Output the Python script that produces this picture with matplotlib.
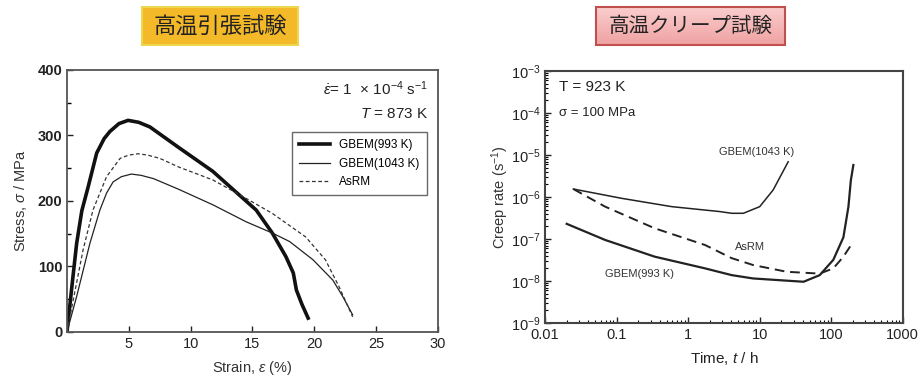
import numpy as np
import matplotlib
matplotlib.use('Agg')
import matplotlib.pyplot as plt
from matplotlib.patches import Rectangle
from matplotlib.ticker import LogLocator, NullFormatter, FixedLocator

plt.rcParams['font.family'] = ['Liberation Sans', 'DejaVu Sans']
plt.rcParams['mathtext.fontset'] = 'custom'
plt.rcParams['mathtext.rm'] = 'Liberation Sans'
plt.rcParams['mathtext.it'] = 'Liberation Sans:italic'
plt.rcParams['xtick.direction'] = 'in'
plt.rcParams['ytick.direction'] = 'in'

# tensile test (strain %, stress MPa)
gb993_strain = [0, 0.4, 0.78, 1.2, 1.72, 2.4, 3.0, 3.47, 4.2, 4.94, 5.8, 6.7, 9.0, 11.8, 13.4, 15.3, 16.6, 17.7, 18.3, 18.55, 19.0, 19.5]
gb993_stress = [0, 70, 135, 185, 222, 273, 295, 306, 318, 323, 320, 313, 282, 245, 218, 186, 151, 115, 90, 64, 42, 21]
gb1043_strain = [0, 0.78, 1.85, 2.66, 3.2, 3.73, 4.4, 5.2, 6.0, 7.0, 9.0, 11.8, 14.5, 16.6, 18.0, 19.9, 21.5, 22.3, 23.1]
gb1043_stress = [0, 54, 135, 186, 212, 229, 237, 241, 239, 234, 218, 194, 168, 151, 138, 110, 79, 54, 26]
asrm_strain = [0, 0.6, 1.3, 2.1, 3.2, 4.3, 5.0, 5.75, 6.5, 7.5, 9.0, 11.8, 14.0, 16.6, 19.3, 20.9, 22.0, 23.1]
asrm_stress = [0, 58, 125, 186, 237, 265, 270, 272, 270, 265, 252, 232, 209, 181, 145, 110, 69, 23]

# creep test (time h, creep rate 1/s)
c1043_t = [0.0248, 0.118, 0.59, 2.78, 4.06, 5.9, 10, 15.4, 25]
c1043_r = [1.55e-6, 9.3e-7, 5.9e-7, 4.5e-7, 4.1e-7, 4.1e-7, 5.9e-7, 1.47e-6, 6.9e-6]
casrm_t = [0.0248, 0.069, 0.34, 1.72, 4.06, 8.1, 23.8, 69, 107, 148, 204]
casrm_r = [1.55e-6, 5.9e-7, 1.8e-7, 7.2e-8, 3.5e-8, 2.4e-8, 1.66e-8, 1.5e-8, 2.0e-8, 3.8e-8, 8.7e-8]
c993_t = [0.020, 0.069, 0.34, 1.72, 4.06, 8.1, 41, 69, 107, 148, 174, 188, 204]
c993_r = [2.3e-7, 9.5e-8, 3.8e-8, 2.0e-8, 1.38e-8, 1.15e-8, 9.6e-9, 1.38e-8, 3.2e-8, 1.1e-7, 5.9e-7, 2.5e-6, 5.8e-6]

W, H = 924, 378
fig = plt.figure(figsize=(W / 100, H / 100), dpi=100)

# ---- left: tensile
ax1 = fig.add_axes([0.0725, 0.122, 0.4015, 0.693])
ax1.plot(gb993_strain, gb993_stress, color='#111111', lw=2.6, label='GBEM(993 K)')
ax1.plot(gb1043_strain, gb1043_stress, color='#222222', lw=0.9, label='GBEM(1043 K)')
ax1.plot(asrm_strain, asrm_stress, color='#333333', lw=0.9, ls=(0, (3, 2)), label='AsRM')
ax1.set_xlim(0, 30)
ax1.set_ylim(0, 400)
ax1.xaxis.set_major_locator(FixedLocator([5, 10, 15, 20, 25, 30]))
ax1.yaxis.set_major_locator(FixedLocator([0, 100, 200, 300, 400]))
ax1.yaxis.set_minor_locator(FixedLocator([50, 150, 250, 350]))
ax1.tick_params(labelsize=10.5, length=4, width=1, colors='#222222')
ax1.tick_params(which='minor', length=3, width=1)
for t in ax1.get_yticklabels():
    t.set_fontweight('bold')
ax1.set_xlabel(r'Strain, $\varepsilon$ (%)', fontsize=10.5, color='#333333', labelpad=6)
ax1.set_ylabel(r'Stress, $\sigma$ / MPa', fontsize=10.5, color='#333333', labelpad=6)
for s in ax1.spines.values():
    s.set_color('#555555')
    s.set_linewidth(1.3)
ax1.text(0.975, 0.93, r'$\dot{\varepsilon}$= 1  × 10$^{-4}$ s$^{-1}$', transform=ax1.transAxes,
         ha='right', va='center', fontsize=11, color='#222222')
ax1.text(0.975, 0.83, r'$T$ = 873 K', transform=ax1.transAxes,
         ha='right', va='center', fontsize=11, color='#222222')
leg = ax1.legend(loc='upper right', bbox_to_anchor=(0.985, 0.785), fontsize=8.5, frameon=True,
                 fancybox=False, edgecolor='#444444', handlelength=2.6, borderpad=0.6,
                 labelspacing=0.55)
leg.get_frame().set_linewidth(1.0)

# ---- right: creep
ax2 = fig.add_axes([0.590, 0.1455, 0.387, 0.6665])
ax2.plot(c1043_t, c1043_r, color='#222222', lw=1.1)
ax2.plot(casrm_t, casrm_r, color='#222222', lw=1.4, ls=(0, (5, 3)))
ax2.plot(c993_t, c993_r, color='#222222', lw=1.6)
ax2.set_xscale('log')
ax2.set_yscale('log')
ax2.set_xlim(0.01, 1000)
ax2.set_ylim(1e-9, 1e-3)
ax2.xaxis.set_major_locator(FixedLocator([0.01, 0.1, 1, 10, 100, 1000]))
ax2.set_xticklabels(['0.01', '0.1', '1', '10', '100', '1000'])
ax2.xaxis.set_minor_locator(LogLocator(base=10, subs=np.arange(2, 10)))
ax2.xaxis.set_minor_formatter(NullFormatter())
ax2.yaxis.set_major_locator(FixedLocator([1e-9, 1e-8, 1e-7, 1e-6, 1e-5, 1e-4, 1e-3]))
ax2.yaxis.set_minor_locator(LogLocator(base=10, subs=np.arange(2, 10)))
ax2.yaxis.set_minor_formatter(NullFormatter())
ax2.set_yticklabels([r'10$^{%d}$' % e for e in range(-9, -2)])
ax2.tick_params(labelsize=10.5, length=4, width=1, colors='#222222')
ax2.tick_params(which='minor', length=2, width=0.8)
ax2.set_xlabel(r'Time, $t$ / h', fontsize=11, color='#222222', labelpad=6)
ax2.set_ylabel(r'Creep rate (s$^{-1}$)', fontsize=10.5, color='#333333', labelpad=0)
for s in ax2.spines.values():
    s.set_color('#444444')
    s.set_linewidth(1.5)
ax2.text(0.04, 0.935, 'T = 923 K', transform=ax2.transAxes, ha='left', va='center',
         fontsize=11, color='#222222')
ax2.text(0.04, 0.835, 'σ = 100 MPa', transform=ax2.transAxes, ha='left', va='center',
         fontsize=9.5, color='#222222')
ax2.text(9, 1.2e-5, 'GBEM(1043 K)', fontsize=8, ha='center', va='center', color='#333333')
ax2.text(7.3, 6.5e-8, 'AsRM', fontsize=8, ha='center', va='center', color='#333333')
ax2.text(0.21, 1.5e-8, 'GBEM(993 K)', fontsize=8, ha='center', va='center', color='#333333')

# ---- title boxes (pixel boxes converted to figure fractions)
def title_box(x0, x1, y0, y1, text, size, face, edge, grad=None):
    r = [x0 / W, 1 - y1 / H, (x1 - x0) / W, (y1 - y0) / H]
    if grad is not None:
        bax = fig.add_axes(r)
        bax.imshow(np.linspace(0, 1, 50).reshape(-1, 1), aspect='auto', cmap=grad,
                   extent=[0, 1, 0, 1])
        bax.set_axis_off()
    else:
        fig.patches.append(Rectangle((r[0], r[1]), r[2], r[3], transform=fig.transFigure,
                                     facecolor=face, edgecolor='none'))
    fig.patches.append(Rectangle((r[0], r[1]), r[2], r[3], transform=fig.transFigure,
                                 facecolor='none', edgecolor=edge, lw=1.5, zorder=5))
    fig.text(r[0] + r[2] / 2, r[1] + r[3] / 2, text, ha='center', va='center', fontsize=size,
             family=['Noto Sans CJK JP', 'DejaVu Sans'], color='#222222', zorder=6)

pink = matplotlib.colors.LinearSegmentedColormap.from_list('pk', ['#FACDCD', '#F0A2A2'])
title_box(142, 298, 7, 45, '高温引張試験', 16, '#F4B928', '#EED64E')
title_box(596, 785, 7, 45, '高温クリープ試験', 14.8, '#F5B5B5', '#C0504D', grad=pink)

fig.savefig('out.png', dpi=100)
